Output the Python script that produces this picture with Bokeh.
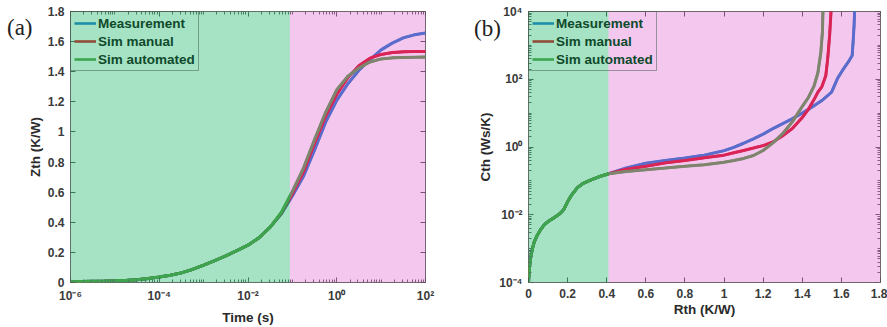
from bokeh.plotting import figure
from bokeh.models import (BoxAnnotation, LogAxis, LinearAxis, FixedTicker, Div,
                          CustomJSTickFormatter, Legend, LegendItem)
from bokeh.layouts import row
from bokeh.embed import file_html
from bokeh.resources import INLINE

# ---------------- data : panel (a) Zth vs time ----------------
time_s = [1e-6, 1.78e-6, 3.16e-6, 5.62e-6, 1e-5, 1.78e-5, 3.16e-5, 5.62e-5,
          1e-4, 1.78e-4, 3.16e-4, 5.62e-4, 1e-3, 1.78e-3, 3.16e-3, 5.62e-3,
          0.01, 0.0178, 0.0316, 0.0562, 0.1, 0.178, 0.316, 0.562,
          1, 1.78, 3.16, 5.62, 10, 17.8, 31.6, 56.2, 100]
zth_common = [0.005, 0.006, 0.008, 0.009, 0.011, 0.014, 0.019, 0.026,
              0.036, 0.048, 0.064, 0.087, 0.115, 0.145, 0.177, 0.212,
              0.248, 0.298, 0.368]
zth_measurement = zth_common + [0.455, 0.575, 0.705, 0.88, 1.065, 1.21, 1.32, 1.41,
                                1.48, 1.545, 1.59, 1.625, 1.645, 1.657]
zth_sim_manual = zth_common + [0.46, 0.59, 0.735, 0.925, 1.105, 1.25, 1.36, 1.44,
                               1.49, 1.515, 1.527, 1.532, 1.534, 1.535]
zth_sim_auto = zth_common + [0.465, 0.605, 0.76, 0.95, 1.13, 1.28, 1.37, 1.425,
                             1.465, 1.485, 1.492, 1.495, 1.496, 1.497]

# ---------------- data : panel (b) Cth vs Rth ----------------
rth_common = [0.0, 0.004, 0.01, 0.02, 0.03, 0.045, 0.06, 0.08, 0.10, 0.13, 0.16,
              0.18, 0.20, 0.22, 0.25, 0.28, 0.32, 0.36, 0.41]
cth_common = [1e-4, 2.5e-4, 5e-4, 1e-3, 1.6e-3, 2.5e-3, 3.5e-3, 5e-3, 6.3e-3,
              8.1e-3, 1.07e-2, 1.41e-2, 2.4e-2, 3.8e-2, 6.3e-2, 8.5e-2, 0.107,
              0.132, 0.162]
rth_measurement = rth_common + [0.5, 0.6, 0.7, 0.8, 0.9, 1.0, 1.05, 1.1, 1.15, 1.2,
                                1.25, 1.3, 1.35, 1.4, 1.45, 1.5, 1.55, 1.58, 1.61,
                                1.64, 1.655, 1.66, 1.665, 1.668]
cth_measurement = cth_common + [0.24, 0.33, 0.40, 0.47, 0.575, 0.78, 0.98, 1.29,
                                 1.74, 2.4, 3.5, 4.9, 6.9, 10.0, 15.1, 23.4, 41.7,
                                 105, 200, 355, 500, 1260, 4000, 12600]
rth_sim_manual = rth_common + [0.5, 0.6, 0.7, 0.8, 0.9, 1.0, 1.05, 1.1, 1.15, 1.2,
                               1.25, 1.3, 1.35, 1.4, 1.43, 1.46, 1.48, 1.5, 1.52,
                               1.53, 1.54, 1.545, 1.548]
cth_sim_manual = cth_common + [0.22, 0.27, 0.34, 0.40, 0.48, 0.575, 0.68, 0.79,
                               0.93, 1.1, 1.41, 2.14, 3.55, 7.4, 12.6, 25.1, 41.7,
                               60, 126, 400, 2000, 6300, 12600]
rth_sim_auto = rth_common + [0.5, 0.6, 0.7, 0.8, 0.9, 1.0, 1.05, 1.1, 1.15, 1.2,
                             1.25, 1.3, 1.35, 1.4, 1.43, 1.46, 1.48, 1.495, 1.503,
                             1.506]
cth_sim_auto = cth_common + [0.19, 0.214, 0.24, 0.27, 0.30, 0.355, 0.40, 0.46,
                             0.56, 0.79, 1.32, 2.5, 5.6, 15.8, 28.2, 63, 158, 630,
                             2500, 12600]

series_names = ["Measurement", "Sim manual", "Sim automated"]
# underlying line colours (tinted by the translucent region overlays)
line_colors = ["#277dd0", "#de1524", "#5aa046"]
# legend swatch colours as they appear inside the green region
legend_colors = ["#1c8fa6", "#914c38", "#3ca54e"]
green_overlay = "#08ae5b"
pink_overlay = "#d744c6"
green_edge_time = 0.088
green_edge_rth = 0.409

FONT = "Liberation Sans"

log_fmt = CustomJSTickFormatter(code="""
const e = Math.round(Math.log10(tick));
const m = {'-':'\u207b','0':'\u2070','1':'\u00b9','2':'\u00b2','3':'\u00b3','4':'\u2074',
           '5':'\u2075','6':'\u2076','7':'\u2077','8':'\u2078','9':'\u2079'};
return '10' + String(e).split('').map(c => m[c]).join('');
""")
lin_fmt = CustomJSTickFormatter(code="return (Math.round(tick*10)/10).toString();")
empty_fmt = CustomJSTickFormatter(code="return '';")


def log_ticker(lo, hi):
    majors = [10.0 ** e for e in range(lo, hi + 1, 2)]
    minors = [k * 10.0 ** e for e in range(lo, hi) for k in range(1, 10)]
    return FixedTicker(ticks=majors, minor_ticks=minors)


def lin_ticker():
    return FixedTicker(ticks=[i / 10 for i in range(0, 19, 2)], minor_ticks=[])


def style_axis(ax, minor=True, labels=True, label_standoff=3):
    ax.axis_line_color = None
    ax.major_tick_in = 5
    ax.major_tick_out = 0
    ax.minor_tick_in = 3 if minor else 0
    ax.minor_tick_out = 0
    ax.major_tick_line_color = "#555555"
    ax.minor_tick_line_color = "#666666"
    ax.major_label_text_font = FONT
    ax.major_label_text_font_style = "bold"
    ax.major_label_text_font_size = "12px" if labels else "0px"
    ax.major_label_text_color = "#3a3a3a"
    ax.major_label_standoff = 6 if labels else 0
    ax.axis_label_text_font = FONT
    ax.axis_label_text_font_style = "bold"
    ax.axis_label_text_font_size = "13.5px"
    ax.axis_label_text_color = "#2a2a2a"
    ax.axis_label_standoff = label_standoff


def draw_series(p, xs_list, ys_list):
    items = []
    for name, xs, ys, lcol, col in zip(series_names, xs_list, ys_list, legend_colors, line_colors):
        # swatch renderer (covered by the real line drawn right after it)
        r_leg = p.line(xs, ys, line_color=lcol, line_width=2.6)
        p.line(xs, ys, line_color=col, line_width=3)
        items.append(LegendItem(label=name, renderers=[r_leg]))
    lg = Legend(items=items, location="top_left", margin=0, padding=3, spacing=2,
                glyph_width=22, glyph_height=16, label_height=16, label_standoff=2,
                label_text_font=FONT, label_text_font_style="bold",
                label_text_font_size="13.5px", label_text_color="#0f4a2b",
                border_line_color="#3f5a4c", border_line_width=1,
                background_fill_alpha=0.0)
    p.add_layout(lg, "center")


# ---------------- panel (a) ----------------
p1 = figure(width=440, height=327, x_axis_type="log", x_range=(1e-6, 100), y_range=(0, 1.8),
            output_backend="svg", toolbar_location=None,
            min_border_left=70, min_border_right=15, min_border_top=11, min_border_bottom=42)
p1.grid.visible = False
p1.outline_line_color = "#6a6a6a"
p1.xaxis.ticker = log_ticker(-6, 2)
p1.xaxis.formatter = log_fmt
p1.xaxis.axis_label = "Time (s)"
p1.yaxis.ticker = lin_ticker()
p1.yaxis.formatter = lin_fmt
p1.yaxis.axis_label = "Zth (K/W)"
style_axis(p1.xaxis[0], label_standoff=4)
style_axis(p1.yaxis[0], minor=False, label_standoff=2)
top1 = LogAxis(ticker=log_ticker(-6, 2), formatter=empty_fmt)
right1 = LinearAxis(ticker=lin_ticker(), formatter=empty_fmt)
style_axis(top1, labels=False)
style_axis(right1, minor=False, labels=False)
p1.add_layout(top1, "above")
p1.add_layout(right1, "right")

draw_series(p1, [time_s, time_s, time_s], [zth_measurement, zth_sim_manual, zth_sim_auto])

p1.add_layout(BoxAnnotation(right=green_edge_time, fill_color=green_overlay, fill_alpha=0.36,
                            line_color=None, level="overlay"))
p1.add_layout(BoxAnnotation(left=green_edge_time, fill_color=pink_overlay, fill_alpha=0.30,
                            line_color=None, level="overlay"))

# ---------------- panel (b) ----------------
p2 = figure(width=447, height=327, y_axis_type="log", x_range=(0, 1.8), y_range=(1e-4, 1e4),
            output_backend="svg", toolbar_location=None,
            min_border_left=88, min_border_right=7, min_border_top=11, min_border_bottom=39)
p2.grid.visible = False
p2.outline_line_color = "#6a6a6a"
p2.yaxis.ticker = log_ticker(-4, 4)
p2.yaxis.formatter = log_fmt
p2.yaxis.axis_label = "Cth (Ws/K)"
p2.xaxis.ticker = lin_ticker()
p2.xaxis.formatter = lin_fmt
p2.xaxis.axis_label = "Rth (K/W)"
style_axis(p2.yaxis[0], label_standoff=3)
style_axis(p2.xaxis[0], minor=False, label_standoff=1)
top2 = LinearAxis(ticker=lin_ticker(), formatter=empty_fmt)
right2 = LogAxis(ticker=log_ticker(-4, 4), formatter=empty_fmt)
style_axis(top2, minor=False, labels=False)
style_axis(right2, labels=False)
p2.add_layout(top2, "above")
p2.add_layout(right2, "right")

draw_series(p2, [rth_measurement, rth_sim_manual, rth_sim_auto],
            [cth_measurement, cth_sim_manual, cth_sim_auto])

p2.add_layout(BoxAnnotation(right=green_edge_rth, fill_color=green_overlay, fill_alpha=0.36,
                            line_color=None, level="overlay"))
p2.add_layout(BoxAnnotation(left=green_edge_rth, fill_color=pink_overlay, fill_alpha=0.30,
                            line_color=None, level="overlay"))

# panel letters
label_style = {"position": "absolute", "font-family": "'Liberation Serif', serif",
               "font-size": "23px", "color": "#222222", "line-height": "23px",
               "margin": "0", "padding": "0"}
div_a = Div(text="(a)", width=34, height=25, styles=dict(label_style, left="7px", top="16px"))
div_b = Div(text="(b)", width=36, height=25, styles=dict(label_style, left="474px", top="17px"))

layout = row(p1, p2, div_a, div_b)
open("out.html", "w").write(file_html(layout, INLINE))
